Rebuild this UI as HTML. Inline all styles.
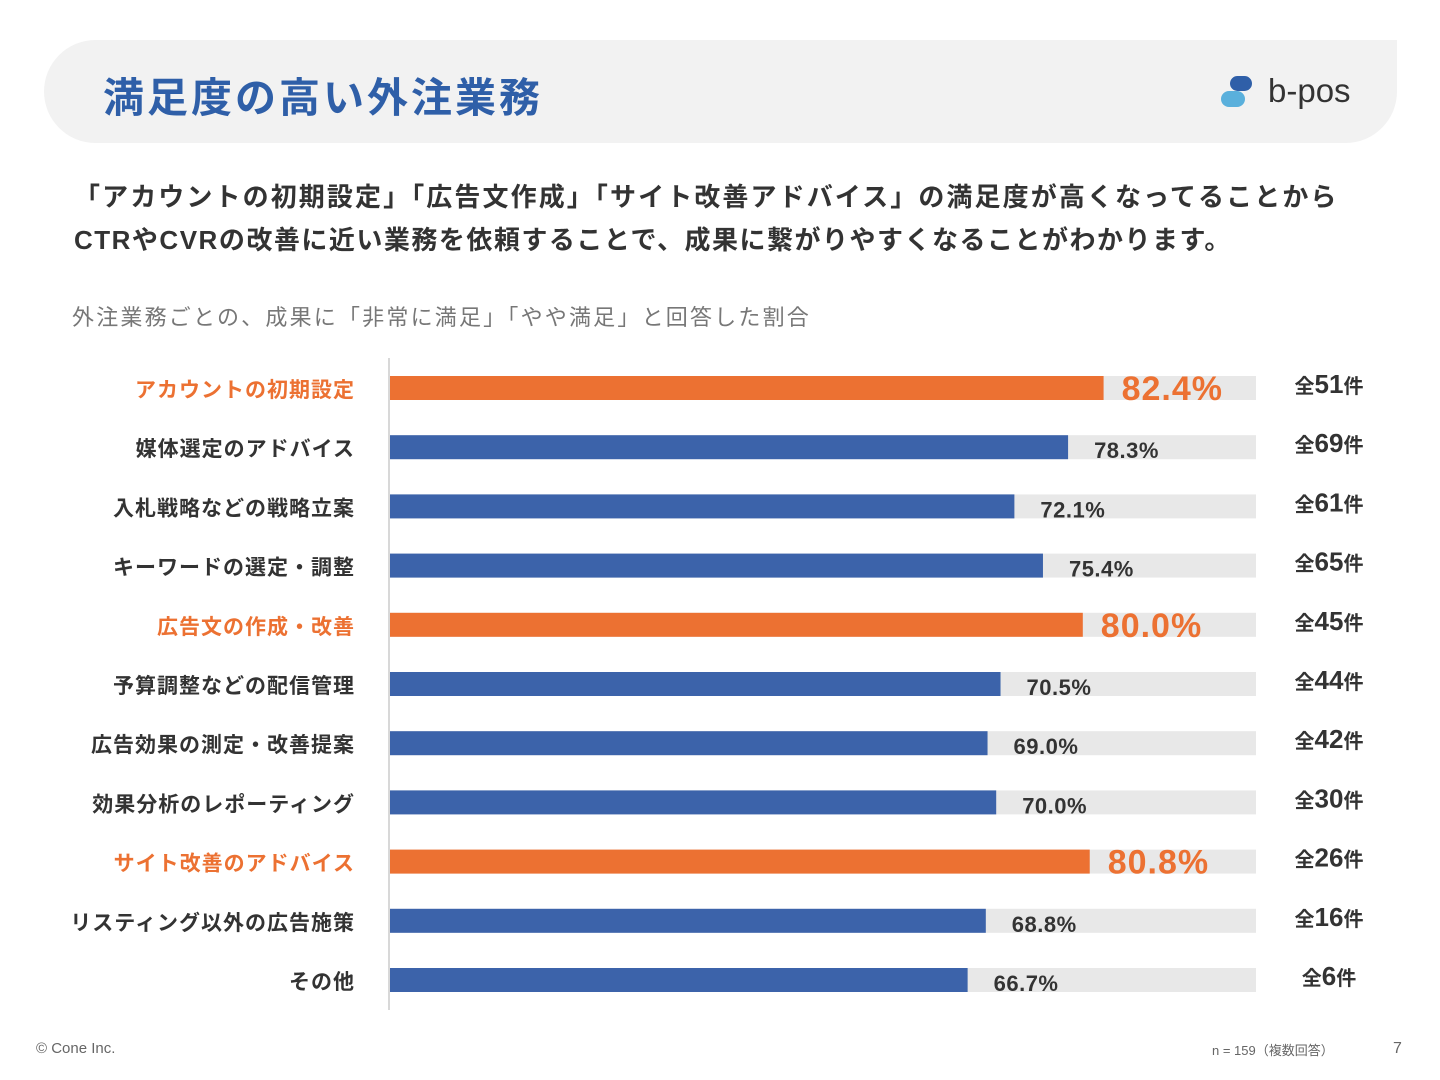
<!DOCTYPE html>
<html><head><meta charset="utf-8">
<style>
body{margin:0;width:1440px;height:1080px;background:#fff;font-family:"Liberation Sans","Noto Sans CJK JP",sans-serif;position:relative;overflow:hidden;color:#333}
.hdr{position:absolute;left:44px;top:40px;width:1353px;height:103px;background:#f2f2f2;border-radius:52px 0 0 52px;border-bottom-right-radius:52px}
.title{position:absolute;left:103px;top:64px;font-size:41px;font-weight:bold;color:#2f5fa8;letter-spacing:3px}
.logo{position:absolute;left:1268px;top:72px;font-size:33px;color:#333;font-weight:500}
.lead{position:absolute;left:74px;top:176px;font-size:26px;font-weight:bold;line-height:43px;color:#333;white-space:nowrap}
.sub{position:absolute;left:72px;top:300px;font-size:22px;color:#777;letter-spacing:2.2px}
.foot{position:absolute;top:1040px;font-size:14px;color:#666}
</style></head><body>
<div class="hdr"></div>
<div class="title">満足度の高い外注業務</div>
<svg style="position:absolute;left:1220px;top:75px" width="34" height="34">
<rect x="10" y="1" width="22" height="15" rx="7.5" fill="#2f5fa8"/><rect x="1" y="16" width="24" height="16" rx="8" fill="#5ab0dc"/></svg>
<div class="logo">b-pos</div>
<div class="lead"><span style="letter-spacing:2.1px">「アカウントの初期設定」「広告文作成」「サイト改善アドバイス」の満足度が高くなってることから</span><br><span style="letter-spacing:1.5px">CTRやCVRの改善に近い業務を依頼することで、成果に繋がりやすくなることがわかります。</span></div>
<div class="sub">外注業務ごとの、成果に「非常に満足」「やや満足」と回答した割合</div>
<svg id="chart" style="position:absolute;left:0;top:0" width="1440" height="1080"></svg>
<div class="foot" style="left:36px;font-size:15px">© Cone Inc.</div>
<div class="foot" style="left:1212px;font-size:13px">n = 159（複数回答）</div>
<div class="foot" style="left:1393px;font-size:16px">7</div>
<script>
const categories=["アカウントの初期設定","媒体選定のアドバイス","入札戦略などの戦略立案","キーワードの選定・調整","広告文の作成・改善","予算調整などの配信管理","広告効果の測定・改善提案","効果分析のレポーティング","サイト改善のアドバイス","リスティング以外の広告施策","その他"];
const values=[82.4,78.3,72.1,75.4,80.0,70.5,69.0,70.0,80.8,68.8,66.7];
const counts=[51,69,61,65,45,44,42,30,26,16,6];
const highlight=[true,false,false,false,true,false,false,false,true,false,false];
const NS="http://www.w3.org/2000/svg",svg=document.getElementById('chart');
const x0=390,x1=1256,y0=388,step=59.2,bh=24;
const xs=v=>x0+(x1-x0)*v/100, ys=i=>y0+i*step;
function mk(t,a){const e=document.createElementNS(NS,t);for(const k in a)e.setAttribute(k,a[k]);svg.appendChild(e);return e;}
const ax=mk('line',{x1:389,x2:389,y1:358,y2:1010,stroke:'#ccc','stroke-width':1.5});


categories.forEach((c,i)=>{
 const y=ys(i),hi=highlight[i],col=hi?'#ec7132':'#3c63aa';
 const bg=mk('rect',{x:x0,y:y-bh/2,width:x1-x0,height:bh,fill:'#e8e8e8'});
 
 
 const b=mk('rect',{x:x0,y:y-bh/2,width:xs(values[i])-x0,height:bh,fill:col});
 
 
 const l=mk('text',{x:355,y:y+9,'text-anchor':'end','font-size':21,fill:hi?'#ec7132':'#333','font-weight':'bold','letter-spacing':1});
 l.textContent=c;
 
 
 const v=mk('text',{x:xs(values[i])+(hi?18:26),y:y+(hi?12:11),'font-size':hi?34:22,fill:hi?'#ec7132':'#333','font-weight':'bold','letter-spacing':hi?1:0.5});
 v.textContent=values[i].toFixed(1)+'%';
 
 
 const n=mk('text',{x:1329,y:y+5,'text-anchor':'middle','font-size':20,fill:'#333','font-weight':'bold'});
 n.innerHTML='全<tspan font-size="26">'+counts[i]+'</tspan>件';
 
 
});
</script>
</body></html>
